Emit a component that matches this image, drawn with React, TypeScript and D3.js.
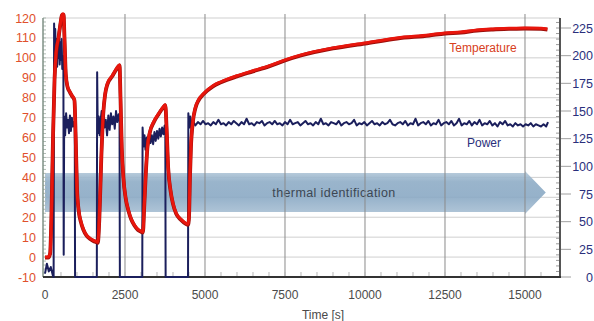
import React, { useEffect, useRef } from "react";
import * as d3 from "d3";

const WIDTH = 594;
const HEIGHT = 321;

// axis ticks
const timeTicks = [0, 2500, 5000, 7500, 10000, 12500, 15000];
const tempTicks = [-10, 0, 10, 20, 30, 40, 50, 60, 70, 80, 90, 100, 110, 120];
const powerTicks = [0, 25, 50, 75, 100, 125, 150, 175, 200, 225];

// temperature [time s, °C] (left axis)
const temperature: [number, number][] = [
  [0, 0], [100, 0], [160, 2], [200, 20], [250, 60], [300, 90], [350, 103], [420, 110],
  [480, 117], [540, 122], [580, 122], [610, 110], [650, 92], [700, 86], [780, 83],
  [850, 81], [920, 79], [960, 60], [1000, 35], [1050, 24], [1120, 18], [1200, 14],
  [1300, 11], [1400, 9.5], [1500, 8.5], [1600, 7.8], [1650, 7.5],
  [1700, 20], [1760, 50], [1820, 72], [1880, 82], [1950, 87], [2100, 91], [2250, 95],
  [2330, 96.5], [2360, 80], [2400, 55], [2450, 40], [2520, 30], [2600, 24], [2700, 19],
  [2800, 16], [2900, 14], [3000, 13], [3060, 12.6],
  [3100, 25], [3150, 42], [3200, 55], [3280, 63], [3400, 68], [3550, 72], [3700, 75.5],
  [3760, 76.5], [3800, 65], [3850, 45], [3920, 34], [4000, 27], [4100, 22], [4250, 19],
  [4400, 17], [4470, 16.5],
  [4500, 20], [4530, 40], [4560, 55], [4620, 68], [4700, 75], [4800, 79], [4950, 82],
  [5250, 86], [5500, 88], [6000, 91], [6500, 93.5], [7000, 96], [7500, 99], [8000, 101.5],
  [9000, 105], [10000, 107.5], [11000, 110], [12000, 111.5], [12500, 112.5], [13000, 113],
  [13500, 114], [14000, 114.5], [14500, 114.8], [15000, 115], [15500, 114.8], [15700, 114.5],
];

// power [time s, value] (right axis)
const power: [number, number][] = [
  [0, 3], [60, 12], [120, 5], [180, 9], [240, 2], [270, 0], [285, 229], [300, 200],
  [320, 224], [340, 196], [360, 215], [380, 190], [400, 210], [420, 198], [440, 222],
  [460, 192], [480, 212], [500, 196], [520, 215], [540, 188], [560, 200], [575, 195],
  [585, 20], [600, 145], [630, 128], [660, 148], [690, 135], [720, 142], [750, 130],
  [780, 146], [810, 132], [840, 144], [870, 136], [900, 140], [930, 138], [940, 0],
  [1620, 0], [1630, 185], [1650, 130], [1680, 145], [1710, 128], [1740, 142], [1770, 150],
  [1800, 132], [1830, 147], [1860, 135], [1900, 142], [1940, 128], [1980, 146], [2020, 133],
  [2060, 148], [2100, 138], [2140, 145], [2180, 134], [2220, 150], [2260, 140], [2300, 147],
  [2330, 142], [2340, 0], [3040, 0], [3050, 135], [3080, 118], [3110, 128], [3140, 115],
  [3180, 126], [3220, 119], [3260, 130], [3300, 121], [3340, 128], [3380, 120], [3420, 131],
  [3460, 123], [3500, 132], [3540, 125], [3580, 134], [3620, 127], [3660, 135], [3700, 129],
  [3740, 137], [3760, 133], [3770, 0], [4470, 0], [4480, 148], [4510, 135], [4540, 145],
  [4580, 134], [4620, 141], [4700, 137], [4780, 140], [4860, 138], [4940, 141], [5020, 138],
  [5100, 139], [5180, 137], [5260, 140], [5340, 138], [5420, 142], [5500, 138], [5580, 139],
  [5660, 137], [5740, 140], [5820, 138], [5900, 141], [5980, 139], [6060, 137], [6140, 140],
  [6220, 138], [6300, 143], [6380, 138], [6460, 139], [6540, 137], [6620, 140], [6700, 139],
  [6780, 141], [6860, 137], [6940, 139], [7020, 140], [7100, 138], [7180, 141], [7260, 138],
  [7340, 139], [7420, 137], [7500, 140], [7580, 138], [7660, 142], [7740, 138], [7820, 139],
  [7900, 140], [7980, 137], [8060, 139], [8140, 141], [8220, 138], [8300, 139], [8380, 137],
  [8460, 140], [8540, 138], [8620, 143], [8700, 138], [8780, 139], [8860, 137], [8940, 140],
  [9020, 139], [9100, 138], [9180, 141], [9260, 137], [9340, 139], [9420, 140], [9500, 138],
  [9580, 139], [9660, 142], [9740, 137], [9820, 139], [9900, 138], [9980, 140], [10060, 137],
  [10140, 139], [10220, 141], [10300, 138], [10380, 139], [10460, 137], [10540, 140],
  [10620, 138], [10700, 139], [10780, 142], [10860, 138], [10940, 137], [11020, 139],
  [11100, 140], [11180, 138], [11260, 141], [11340, 137], [11420, 139], [11500, 138],
  [11580, 143], [11660, 137], [11740, 139], [11820, 140], [11900, 138], [11980, 141],
  [12060, 137], [12140, 139], [12220, 138], [12300, 142], [12380, 137], [12460, 139],
  [12540, 140], [12620, 138], [12700, 141], [12780, 137], [12860, 139], [12940, 143],
  [13020, 137], [13100, 139], [13180, 138], [13260, 141], [13340, 137], [13420, 140],
  [13500, 138], [13580, 142], [13660, 137], [13740, 139], [13820, 138], [13900, 141],
  [13980, 137], [14060, 139], [14140, 136], [14220, 140], [14300, 138], [14380, 141],
  [14460, 137], [14540, 138], [14620, 136], [14700, 139], [14780, 137], [14860, 138],
  [14940, 136], [15020, 138], [15100, 137], [15180, 139], [15260, 136], [15340, 138],
  [15420, 137], [15500, 136], [15580, 138], [15660, 136], [15720, 140],
];

const arrowLabel = "thermal identification";

const App: React.FC = () => {
  const ref = useRef<SVGSVGElement>(null);

  useEffect(() => {
    const svg = d3.select(ref.current);
    svg.selectAll("*").remove();

    const left = 43;
    const right = 560;
    const top = 18;
    const bottom = 277;

    const x = d3.scaleLinear().domain([-62, 16094]).range([left, right]);
    const yT = d3.scaleLinear().domain([-10, 120]).range([bottom, top]);
    const yP = d3.scaleLinear().domain([0, 225]).range([bottom, 28]);

    const font = "'Liberation Sans', Arial, sans-serif";

    // horizontal gridlines
    svg
      .append("g")
      .selectAll("line")
      .data(tempTicks.filter((d) => d > -10))
      .enter()
      .append("line")
      .attr("x1", left)
      .attr("x2", right)
      .attr("y1", (d) => yT(d))
      .attr("y2", (d) => yT(d))
      .attr("stroke", "#cfcfcf")
      .attr("stroke-width", 1);

    // arrow band
    const grad = svg
      .append("defs")
      .append("linearGradient")
      .attr("id", "arrowGrad")
      .attr("x1", 0)
      .attr("x2", 0)
      .attr("y1", 0)
      .attr("y2", 1);
    grad.append("stop").attr("offset", "0%").attr("stop-color", "#b4c9da");
    grad.append("stop").attr("offset", "25%").attr("stop-color", "#8eacc6");
    grad.append("stop").attr("offset", "60%").attr("stop-color", "#8aa9c4");
    grad.append("stop").attr("offset", "100%").attr("stop-color", "#a9c0d4");

    const aTop = yT(42.2);
    const aBot = yT(22.6);
    const aMid = (aTop + aBot) / 2;
    const bodyEnd = x(15000);
    const tip = x(15650);
    svg
      .append("path")
      .attr(
        "d",
        `M${x(0)},${aTop}L${bodyEnd},${aTop}L${bodyEnd},${aTop - 2}L${tip},${aMid}L${bodyEnd},${aBot + 2}L${bodyEnd},${aBot}L${x(0)},${aBot}Z`
      )
      .attr("fill", "url(#arrowGrad)")
      .attr("opacity", 0.9);

    svg
      .append("text")
      .attr("x", 334)
      .attr("y", aMid + 4)
      .attr("text-anchor", "middle")
      .style("font-family", font)
      .style("font-size", "12.5px")
      .style("letter-spacing", "0.4px")
      .style("fill", "#3c4753")
      .text(arrowLabel);

    // vertical gridlines
    svg
      .append("g")
      .selectAll("line")
      .data(timeTicks.filter((d) => d > 0))
      .enter()
      .append("line")
      .attr("x1", (d) => x(d))
      .attr("x2", (d) => x(d))
      .attr("y1", top - 4)
      .attr("y2", bottom)
      .attr("stroke", "#8a8a8a")
      .attr("stroke-width", 1);

    // minor ticks on bottom axis
    svg
      .append("g")
      .selectAll("line")
      .data(d3.range(500, 16000, 500))
      .enter()
      .append("line")
      .attr("x1", (d) => x(d))
      .attr("x2", (d) => x(d))
      .attr("y1", bottom - 5)
      .attr("y2", bottom)
      .attr("stroke", "#b8b8b8");

    // minor ticks on right axis
    svg
      .append("g")
      .selectAll("line")
      .data(d3.range(5, 234, 5))
      .enter()
      .append("line")
      .attr("x1", right - 4)
      .attr("x2", right)
      .attr("y1", (d) => yP(d))
      .attr("y2", (d) => yP(d))
      .attr("stroke", "#9a9a9a");

    // minor ticks on left axis
    svg
      .append("g")
      .selectAll("line")
      .data(d3.range(-8, 121, 2))
      .enter()
      .append("line")
      .attr("x1", left)
      .attr("x2", left + 3)
      .attr("y1", (d) => yT(d))
      .attr("y2", (d) => yT(d))
      .attr("stroke", "#b0bcb4");

    // axis lines
    svg
      .append("line")
      .attr("x1", left)
      .attr("x2", left)
      .attr("y1", top)
      .attr("y2", bottom)
      .attr("stroke", "#7f9086")
      .attr("stroke-width", 1.5);
    svg
      .append("line")
      .attr("x1", right)
      .attr("x2", right)
      .attr("y1", top)
      .attr("y2", bottom)
      .attr("stroke", "#555")
      .attr("stroke-width", 2);
    svg
      .append("line")
      .attr("x1", left)
      .attr("x2", right + 1)
      .attr("y1", bottom)
      .attr("y2", bottom)
      .attr("stroke", "#333")
      .attr("stroke-width", 2);

    // right major ticks
    svg
      .append("g")
      .selectAll("line")
      .data(powerTicks)
      .enter()
      .append("line")
      .attr("x1", right + 1)
      .attr("x2", right + 11)
      .attr("y1", (d) => yP(d))
      .attr("y2", (d) => yP(d))
      .attr("stroke", "#a0a0a0");

    // series
    const tempLine = d3
      .line<[number, number]>()
      .x((d) => x(d[0]))
      .y((d) => yT(d[1]))
      .curve(d3.curveMonotoneX);

    const powerLine = d3
      .line<[number, number]>()
      .x((d) => x(d[0]))
      .y((d) => yP(d[1]));

    svg
      .append("path")
      .attr("d", powerLine(power))
      .attr("fill", "none")
      .attr("stroke", "#1b1f5c")
      .attr("stroke-width", 2)
      .attr("stroke-linejoin", "round");

    svg
      .append("path")
      .attr("d", tempLine(temperature))
      .attr("fill", "none")
      .attr("stroke", "#9a0e0a")
      .attr("stroke-width", 3.8)
      .attr("transform", "translate(0,0.6)")
      .attr("stroke-linejoin", "round");
    svg
      .append("path")
      .attr("d", tempLine(temperature))
      .attr("fill", "none")
      .attr("stroke", "#e8160d")
      .attr("stroke-width", 3)
      .attr("stroke-linejoin", "round");

    // left labels
    svg
      .append("g")
      .selectAll("text")
      .data(tempTicks)
      .enter()
      .append("text")
      .attr("x", 36)
      .attr("y", (d) => yT(d) + 4.5)
      .attr("text-anchor", "end")
      .style("font-family", font)
      .style("font-size", "12.5px")
      .style("fill", "#e0502c")
      .text((d) => String(d));

    // right labels
    svg
      .append("g")
      .selectAll("text")
      .data(powerTicks)
      .enter()
      .append("text")
      .attr("x", 593)
      .attr("y", (d) => yP(d) + 4.5)
      .attr("text-anchor", "end")
      .style("font-family", font)
      .style("font-size", "12.5px")
      .style("fill", "#2a2f7c")
      .text((d) => String(d));

    // x labels
    svg
      .append("g")
      .selectAll("text")
      .data(timeTicks)
      .enter()
      .append("text")
      .attr("x", (d) => x(d))
      .attr("y", 299)
      .attr("text-anchor", "middle")
      .style("font-family", font)
      .style("font-size", "12px")
      .style("fill", "#4a4a4a")
      .text((d) => String(d));

    svg
      .append("text")
      .attr("x", 323)
      .attr("y", 319)
      .attr("text-anchor", "middle")
      .style("font-family", font)
      .style("font-size", "12px")
      .style("fill", "#4a4a4a")
      .text("Time [s]");

    // series labels
    svg
      .append("text")
      .attr("x", 483)
      .attr("y", 52)
      .attr("text-anchor", "middle")
      .style("font-family", font)
      .style("font-size", "12px")
      .style("fill", "#d8401c")
      .text("Temperature");
    svg
      .append("text")
      .attr("x", 484)
      .attr("y", 147)
      .attr("text-anchor", "middle")
      .style("font-family", font)
      .style("font-size", "12px")
      .style("fill", "#2a2f7c")
      .text("Power");
  }, []);

  return (
    <svg
      ref={ref}
      width={WIDTH}
      height={HEIGHT}
      style={{ position: "absolute", left: 0, top: 0, background: "#fff" }}
    />
  );
};

export default App;
